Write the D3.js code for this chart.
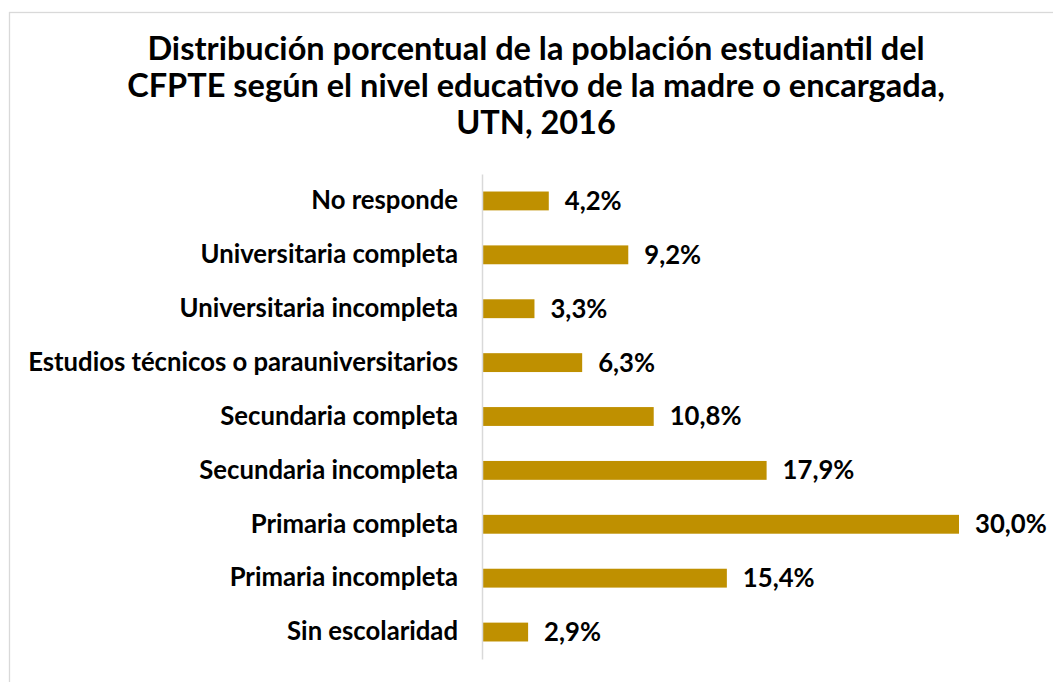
<!DOCTYPE html>
<html>
<head>
    <meta charset="utf-8">
    <script src="https://d3js.org/d3.v7.min.js"></script>
    <style>
        body { margin: 0; background: #fff; }
        text { font-family: "Lato", "Open Sans", sans-serif; font-weight: bold; fill: #000; }
    </style>
</head>
<body>
    <div id="chart"></div>
    <script>
        // data, top to bottom as in the chart
        var categories = ["No responde", "Universitaria completa", "Universitaria incompleta",
            "Estudios técnicos o parauniversitarios", "Secundaria completa", "Secundaria incompleta",
            "Primaria completa", "Primaria incompleta", "Sin escolaridad"];
        var values = [4.2, 9.2, 3.3, 6.3, 10.8, 17.9, 30.0, 15.4, 2.9];
        var titleLines = ["Distribución porcentual de la población estudiantil del",
            "CFPTE según el nivel educativo de la madre o encargada,",
            "UTN, 2016"];

        var W = 1053, H = 682;

        var svg = d3.select("#chart").append("svg")
            .attr("width", W)
            .attr("height", H);

        // chart border (runs off right and bottom like the screenshot)
        svg.append("rect")
            .attr("x", 9.5).attr("y", 12.5)
            .attr("width", W + 20).attr("height", H + 20)
            .attr("fill", "none")
            .attr("stroke", "#d9d9d9")
            .attr("stroke-width", 1.3);

        // helper: font size so a string has a given width
        function fitSize(str, base, target) {
            var t = svg.append("text").style("font-size", base + "px").text(str);
            var w = t.node().getComputedTextLength();
            t.remove();
            return base * target / w;
        }

        // title
        var titleSize = fitSize(titleLines[1], 24, 818);
        svg.append("g").selectAll("text")
            .data(titleLines)
            .join("text")
            .attr("x", 536)
            .attr("y", function (d, i) { return 60 + i * 37; })
            .attr("text-anchor", "middle")
            .style("font-size", titleSize + "px")
            .text(function (d) { return d; });

        var x = d3.scaleLinear().domain([0, 30]).range([482, 959]);
        var y = d3.scaleBand().domain(categories).range([174, 659])
            .paddingInner(0.65).paddingOuter(0.325);

        var labelSize = fitSize(categories[3], 19, 430);

        // bars
        svg.append("g").selectAll("rect")
            .data(values)
            .join("rect")
            .attr("x", x(0))
            .attr("y", function (d, i) { return y(categories[i]); })
            .attr("width", function (d) { return x(d) - x(0); })
            .attr("height", y.bandwidth())
            .attr("fill", "#bf9000");

        // vertical axis line, no ticks
        var yAxis = svg.append("g")
            .attr("transform", "translate(" + x(0) + ",0)")
            .call(d3.axisLeft(y).tickSize(0).tickPadding(24));
        yAxis.select(".domain").attr("stroke", "#d9d9d9").attr("stroke-width", 1.5);
        yAxis.selectAll("text")
            .attr("font-family", null)
            .style("font-size", labelSize + "px")
            .attr("fill", "#000");
        yAxis.attr("font-size", null).attr("font-family", null);

        // value labels
        svg.append("g").selectAll("text")
            .data(values)
            .join("text")
            .attr("x", function (d) { return x(d) + 16; })
            .attr("y", function (d, i) { return y(categories[i]) + y.bandwidth() / 2; })
            .attr("dy", "0.35em")
            .style("font-size", labelSize + "px")
            .text(function (d) { return d.toFixed(1).replace(".", ",") + "%"; });
    </script>
</body>
</html>
